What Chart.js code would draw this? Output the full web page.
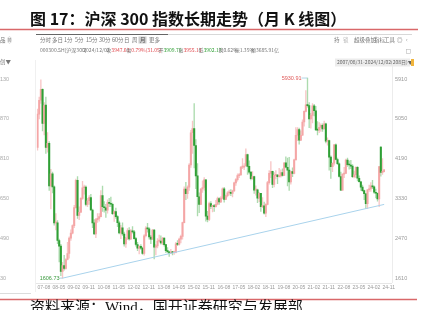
<!DOCTYPE html>
<html>
<head>
<meta charset="utf-8">
<script src="https://cdn.jsdelivr.net/npm/chart.js@4.4.1/dist/chart.umd.min.js"></script>
<style>
  html, body { margin: 0; padding: 0; background: #fff; overflow: hidden; }
  canvas { display: block; }
</style>
</head>
<body>
<canvas id="kline" width="423" height="310"></canvas>
<script>
// monthly K line, CSI 300, 2007-08 .. 2024-12
const months = [
  '07-08','07-09','07-10','07-11','07-12',
  '08-01','08-02','08-03','08-04','08-05','08-06','08-07','08-08','08-09','08-10','08-11','08-12',
  '09-01','09-02','09-03','09-04','09-05','09-06','09-07','09-08','09-09','09-10','09-11','09-12',
  '10-01','10-02','10-03','10-04','10-05','10-06','10-07','10-08','10-09','10-10','10-11','10-12',
  '11-01','11-02','11-03','11-04','11-05','11-06','11-07','11-08','11-09','11-10','11-11','11-12',
  '12-01','12-02','12-03','12-04','12-05','12-06','12-07','12-08','12-09','12-10','12-11','12-12',
  '13-01','13-02','13-03','13-04','13-05','13-06','13-07','13-08','13-09','13-10','13-11','13-12',
  '14-01','14-02','14-03','14-04','14-05','14-06','14-07','14-08','14-09','14-10','14-11','14-12',
  '15-01','15-02','15-03','15-04','15-05','15-06','15-07','15-08','15-09','15-10','15-11','15-12',
  '16-01','16-02','16-03','16-04','16-05','16-06','16-07','16-08','16-09','16-10','16-11','16-12',
  '17-01','17-02','17-03','17-04','17-05','17-06','17-07','17-08','17-09','17-10','17-11','17-12',
  '18-01','18-02','18-03','18-04','18-05','18-06','18-07','18-08','18-09','18-10','18-11','18-12',
  '19-01','19-02','19-03','19-04','19-05','19-06','19-07','19-08','19-09','19-10','19-11','19-12',
  '20-01','20-02','20-03','20-04','20-05','20-06','20-07','20-08','20-09','20-10','20-11','20-12',
  '21-01','21-02','21-03','21-04','21-05','21-06','21-07','21-08','21-09','21-10','21-11','21-12',
  '22-01','22-02','22-03','22-04','22-05','22-06','22-07','22-08','22-09','22-10','22-11','22-12',
  '23-01','23-02','23-03','23-04','23-05','23-06','23-07','23-08','23-09','23-10','23-11','23-12',
  '24-01','24-02','24-03','24-04','24-05','24-06','24-07','24-08','24-09','24-10','24-11','24-12'
];

const open = [
  4430, 5150, 5450, 5688, 4950,
  5349, 4430, 4520, 3600, 3860, 3580, 2800, 2800, 2420, 2300, 1750, 1880,
  1817, 2010, 2140, 2470, 2580, 2740, 3130, 3720, 2960, 3030, 3330, 3560,
  3575, 3200, 3280, 3350, 3080, 2800, 2560, 2870, 2900, 2935, 3390, 3150,
  3128, 3077, 3240, 3222, 3203, 3000, 3044, 2937, 2803, 2584, 2695, 2560,
  2345, 2464, 2634, 2455, 2626, 2605, 2462, 2333, 2253, 2293, 2254, 2139,
  2523, 2686, 2673, 2495, 2447, 2643, 2274, 2304, 2409, 2410, 2368, 2475,
  2330, 2202, 2178, 2146, 2158, 2157, 2165, 2350, 2338, 2450, 2508, 2808,
  3533, 3434, 3572, 4051, 4749, 4840, 4473, 3816, 3366, 3202, 3534, 3566,
  3731, 2946, 2877, 3218, 3156, 3169, 3153, 3203, 3327, 3253, 3336, 3538,
  3310, 3387, 3452, 3456, 3439, 3492, 3666, 3737, 3822, 3837, 4006, 4006,
  4031, 4275, 4023, 3899, 3756, 3802, 3510, 3517, 3335, 3438, 3153, 3172,
  3011, 3202, 3670, 3872, 3913, 3630, 3826, 3836, 3799, 3814, 3886, 3828,
  4097, 4003, 3940, 3686, 3912, 3868, 4164, 4695, 4817, 4587, 4695, 4980,
  5211, 5352, 5336, 5049, 5124, 5332, 5224, 4811, 4806, 4866, 4908, 4832,
  4940, 4564, 4581, 4222, 4016, 4090, 4485, 4170, 4079, 3804, 3509, 3854,
  3872, 4157, 4060, 4051, 4029, 3799, 3842, 4002, 3765, 3690, 3573, 3497,
  3431, 3215, 3516, 3537, 3604, 3580, 3462, 3442, 3321, 4440, 3891, 3909.70
];

const high = [
  5260, 5520, 5892, 5700, 5400,
  5522, 4750, 4560, 3960, 3900, 3600, 3000, 2850, 2450, 2340, 1950, 2100,
  2030, 2380, 2500, 2650, 2760, 3180, 3750, 3803, 3150, 3350, 3700, 3620,
  3600, 3330, 3390, 3420, 3100, 2870, 2900, 3000, 3000, 3500, 3597, 3260,
  3200, 3300, 3330, 3357, 3230, 3060, 3120, 2960, 2840, 2750, 2800, 2600,
  2490, 2680, 2700, 2660, 2720, 2640, 2490, 2380, 2310, 2330, 2280, 2550,
  2720, 2791, 2700, 2530, 2660, 2660, 2330, 2460, 2540, 2520, 2490, 2480,
  2340, 2270, 2190, 2230, 2180, 2190, 2380, 2420, 2470, 2540, 2820, 3580,
  3675, 3600, 4080, 4800, 5000, 5380, 4600, 4080, 3450, 3550, 3710, 3780,
  3735, 3050, 3250, 3260, 3180, 3200, 3290, 3360, 3350, 3370, 3560, 3570,
  3400, 3480, 3510, 3520, 3510, 3680, 3760, 3860, 3870, 4020, 4190, 4080,
  4403, 4290, 4140, 3910, 3910, 3810, 3600, 3530, 3460, 3440, 3350, 3250,
  3220, 3700, 3930, 4127, 3920, 3890, 3930, 3850, 3980, 3950, 3970, 4100,
  4230, 4200, 4220, 3920, 3990, 4180, 4860, 4860, 4850, 4790, 5030, 5220,
  5660, 5930.91, 5400, 5170, 5380, 5360, 5320, 4990, 4970, 4940, 4940, 5000,
  4960, 4640, 4590, 4250, 4100, 4500, 4510, 4200, 4100, 3900, 3860, 4000,
  4180, 4200, 4140, 4150, 4060, 3920, 4010, 4020, 3820, 3700, 3620, 3510,
  3440, 3520, 3620, 3670, 3720, 3600, 3530, 3450, 4019, 4450, 4190, 3955.13
];

const low = [
  4370, 5050, 5380, 4790, 4700,
  4300, 4330, 3500, 3100, 3450, 2750, 2650, 2350, 1960, 1660, 1606.73, 1780,
  1800, 2000, 2040, 2420, 2560, 2700, 3120, 2900, 2870, 3020, 3310, 3420,
  3170, 3150, 3200, 3070, 2700, 2550, 2480, 2810, 2840, 2930, 3050, 3030,
  2920, 3010, 3150, 3150, 2980, 2830, 2900, 2720, 2560, 2460, 2530, 2300,
  2270, 2440, 2430, 2440, 2580, 2450, 2300, 2200, 2130, 2230, 2120, 2102,
  2500, 2600, 2450, 2350, 2440, 2023, 2110, 2260, 2390, 2340, 2330, 2300,
  2160, 2150, 2079, 2140, 2110, 2120, 2150, 2310, 2320, 2370, 2450, 2800,
  3300, 3330, 3500, 4000, 4300, 3990, 3540, 2952, 3020, 3200, 3460, 3510,
  2839, 2821, 2850, 3110, 3040, 3050, 3140, 3190, 3200, 3240, 3320, 3250,
  3300, 3360, 3400, 3390, 3360, 3480, 3610, 3700, 3780, 3830, 3970, 3950,
  4030, 3850, 3860, 3730, 3740, 3440, 3400, 3240, 3260, 3050, 3130, 2990,
  2935, 3190, 3640, 3780, 3560, 3580, 3750, 3650, 3790, 3790, 3810, 3820,
  3990, 3600, 3503, 3640, 3800, 3860, 4160, 4580, 4500, 4580, 4690, 4890,
  5200, 5300, 4860, 4850, 4960, 5110, 4800, 4700, 4750, 4780, 4780, 4830,
  4530, 4480, 3940, 3760, 3910, 4050, 4160, 4060, 3790, 3495, 3500, 3780,
  3870, 4020, 3960, 3970, 3780, 3770, 3780, 3710, 3680, 3500, 3480, 3300,
  3110, 3108, 3480, 3480, 3540, 3440, 3340, 3270, 3150, 3810, 3850, 3902.17
];

const close = [
  5150, 5450, 5688, 4950, 5338,
  4430, 4520, 3600, 3860, 3580, 2800, 2800, 2420, 2300, 1750, 1880, 1817,
  2010, 2140, 2470, 2580, 2740, 3130, 3720, 2960, 3030, 3330, 3560, 3575,
  3200, 3280, 3350, 3080, 2800, 2560, 2870, 2900, 2935, 3390, 3150, 3128,
  3077, 3240, 3222, 3203, 3000, 3044, 2937, 2803, 2584, 2695, 2560, 2345,
  2464, 2634, 2455, 2626, 2605, 2462, 2333, 2253, 2293, 2254, 2139, 2523,
  2686, 2673, 2495, 2447, 2643, 2274, 2304, 2409, 2410, 2368, 2475, 2330,
  2202, 2178, 2146, 2158, 2157, 2165, 2350, 2338, 2450, 2508, 2808, 3533,
  3434, 3572, 4051, 4749, 4840, 4473, 3816, 3366, 3202, 3534, 3566, 3731,
  2946, 2877, 3218, 3156, 3169, 3153, 3203, 3327, 3253, 3336, 3538, 3310,
  3387, 3452, 3456, 3439, 3492, 3666, 3737, 3822, 3837, 4006, 4006, 4031,
  4275, 4023, 3899, 3756, 3802, 3510, 3517, 3335, 3438, 3153, 3172, 3011,
  3202, 3670, 3872, 3913, 3630, 3826, 3836, 3799, 3814, 3886, 3828, 4097,
  4003, 3940, 3686, 3912, 3868, 4164, 4695, 4817, 4587, 4695, 4980, 5211,
  5352, 5336, 5049, 5124, 5332, 5224, 4811, 4806, 4866, 4908, 4832, 4940,
  4564, 4581, 4222, 4016, 4090, 4485, 4170, 4079, 3804, 3509, 3854, 3872,
  4157, 4060, 4051, 4029, 3799, 3842, 4002, 3765, 3690, 3573, 3497, 3431,
  3215, 3516, 3537, 3604, 3580, 3462, 3442, 3321, 4018, 3891, 3917, 3947.63
];

// support line from the 2008 low to the right edge
const trendFrom = { month: '08-11', value: 1606.73 };
const trendTo = { month: '24-12', value: 3200 };

const yTicks = [1610, 2470, 3330, 4190, 5050, 5910];
const leftTickLabels = ['30', '490', '650', '810', '870', '130'];

const title = '图 17：沪深 300 指数长期走势（月 K 线图）';
const source = '资料来源：Wind，国开证券研究与发展部';

const UP = '#f4a6a6', UP_WICK = '#f8c6c6';
const DOWN = '#2f9f35', DOWN_WICK = '#acdbae';
const isUp = i => close[i] >= open[i];

const bodies = months.map((m, i) => [open[i], close[i]]);
const wicks = months.map((m, i) => [low[i], high[i]]);
const trend = months.map(m => m === trendFrom.month ? trendFrom.value : (m === trendTo.month ? trendTo.value : null));

function hline(c, x1, x2, y, color, w) {
  c.strokeStyle = color; c.lineWidth = w || 1;
  c.beginPath(); c.moveTo(x1, y); c.lineTo(x2, y); c.stroke();
}
function vline(c, x, y1, y2, color, w) {
  c.strokeStyle = color; c.lineWidth = w || 1;
  c.beginPath(); c.moveTo(x, y1); c.lineTo(x, y2); c.stroke();
}

const SMALL = '"Noto Sans CJK SC", "Noto Sans", sans-serif';
const NUM_FAMILY = '"Liberation Sans", Arial, sans-serif';

const decor = {
  id: 'decor',
  beforeDraw(chart) {
    const c = chart.ctx;
    c.save();
    c.fillStyle = '#fff';
    c.fillRect(0, 0, chart.width, chart.height);

    c.fillStyle = '#111';
    c.font = 'bold 16px "Noto Sans CJK SC", sans-serif';
    c.textBaseline = 'middle';
    c.textAlign = 'left';
    c.fillText(title, 30, 19);
    hline(c, 0, 418, 29.5, '#d9686a', 1.5);

    // terminal toolbar
    hline(c, 36, 168, 34.5, '#666', 1);
    hline(c, 168, 412, 34.5, '#d8d8d8', 1);
    c.font = '5.5px ' + SMALL;
    const tools = [['分时', 40], ['多日', 52], ['1分', 64], ['5分', 75], ['15分', 86], ['30分', 99],
                   ['60分', 112], ['日', 124], ['周', 132], ['月', 140], ['更多', 149]];
    tools.forEach(([t, x]) => {
      if (t === '月') {
        c.fillStyle = '#ccc'; c.fillRect(x - 1.5, 36.5, 8, 7); c.fillStyle = '#555';
      } else c.fillStyle = '#777';
      c.fillText(t, x, 40);
    });
    const rtools = [['持', 334], ['锁', 343], ['超级叠加', 354], ['指标', 374], ['工具', 384], ['◎', 397], ['‹', 406]];
    rtools.forEach(([t, x]) => { c.fillStyle = t === '锁' ? '#bbb' : '#777'; c.fillText(t, x, 40); });
    c.fillStyle = '#777';
    c.fillText('品 ⑩', 0, 40);
    c.fillText('创▼', 0, 62);
    c.strokeStyle = '#bbb'; c.lineWidth = 0.6; c.strokeRect(406.5, 49.5, 4, 4);

    // quote line
    const quote = [
      ['000300.SH[沪深300]', '#777'], ['2024/12/02', '#777'],
      ['收', '#777', '3947.63', '#e0474c'], ['幅', '#777', '0.79%(31.05)', '#e0474c'],
      ['开', '#777', '3909.70', '#2f9f35'], ['高', '#777', '3955.13', '#e0474c'],
      ['低', '#777', '3902.17', '#2f9f35'], ['换0.62%', '#777'], ['振1.35%', '#777'], ['额3685.91亿', '#777']
    ];
    c.font = '5px ' + SMALL;
    const widths = quote.map(q => c.measureText(q[0]).width + (q[2] ? c.measureText(q[2]).width : 0));
    const total = widths.reduce((a, b) => a + b, 0);
    const gap = (279 - 40 - total) / (quote.length - 1);
    let qx = 40;
    quote.forEach((q, i) => {
      c.fillStyle = q[1]; c.fillText(q[0], qx, 50);
      if (q[2]) { c.fillStyle = q[3]; c.fillText(q[2], qx + c.measureText(q[0]).width, 50); }
      qx += widths[i] + gap;
    });

    // range box
    c.fillStyle = '#ececec';
    c.fillRect(335, 58.5, 75, 8);
    c.fillStyle = '#666';
    c.fillText('2007/08/31-2024/12/02(208日)▼', 337, 62.5);
    c.fillStyle = '#f0b43c';
    c.fillRect(411, 59, 3, 7);

    // frame lines
    vline(c, 35.5, 60, 292, '#f0f0f0', 1);
    vline(c, 392.5, 60, 283, '#ececec', 1);
    hline(c, 36, 392, 283.5, '#e6e6e6', 1);
    hline(c, 0, 31, 293.5, '#dcdcdc', 1);

    // footer
    hline(c, 0, 417, 299.5, '#d9686a', 1.5);
    c.fillStyle = '#111';
    c.font = '15px "Liberation Serif", "Noto Sans CJK SC", serif';
    c.textBaseline = 'top';
    c.fillText(source, 30, 301);
    c.restore();
  },
  afterDatasetsDraw(chart) {
    const c = chart.ctx, xs = chart.scales.x, ys = chart.scales.y;
    c.save();
    c.font = '5.5px ' + NUM_FAMILY;
    c.textBaseline = 'middle';
    c.textAlign = 'right';

    const li = low.indexOf(Math.min(...low));
    const lx = xs.getPixelForValue(li), ly = ys.getPixelForValue(low[li]);
    hline(c, lx - 3, lx, ly, '#9ccbe0', 0.8);
    c.fillStyle = '#3b9a3f';
    c.fillText(low[li].toFixed(2), lx - 3, ly);

    const hi = high.indexOf(Math.max(...high));
    const hx = xs.getPixelForValue(hi), hy = ys.getPixelForValue(high[hi]);
    hline(c, hx - 6, hx, hy, '#9ccbe0', 0.8);
    c.fillStyle = '#e05a5a';
    c.fillText(high[hi].toFixed(2), hx - 6, hy);
    c.restore();
  }
};

const pxPerPoint = (5910 - 1610) / 199;
const yMax = 5910 + 15 * pxPerPoint;
const yMin = 1610 - 5 * pxPerPoint;

new Chart(document.getElementById('kline'), {
  type: 'bar',
  data: {
    labels: months,
    datasets: [
      {
        label: 'wick',
        data: wicks,
        yAxisID: 'y',
        grouped: false,
        barThickness: 0.7,
        backgroundColor: ctx => isUp(ctx.dataIndex) ? UP_WICK : DOWN_WICK,
        order: 3
      },
      {
        label: 'body',
        data: bodies,
        yAxisID: 'y',
        grouped: false,
        barThickness: 1.4,
        minBarLength: 1,
        backgroundColor: ctx => isUp(ctx.dataIndex) ? UP : DOWN,
        order: 2
      },
      {
        type: 'line',
        label: 'trend',
        data: trend,
        yAxisID: 'y',
        borderColor: '#a9d3ec',
        borderWidth: 1,
        pointRadius: 0,
        spanGaps: true,
        order: 1
      }
    ]
  },
  options: {
    responsive: false,
    animation: false,
    layout: { padding: { top: 64, bottom: 15, left: 0, right: 0 } },
    plugins: { legend: { display: false }, tooltip: { enabled: false } },
    scales: {
      x: {
        grid: { display: false, drawTicks: false },
        border: { display: false },
        ticks: {
          autoSkip: false,
          maxRotation: 0,
          minRotation: 0,
          align: 'start',
          padding: 2,
          color: '#999',
          font: { size: 5, family: NUM_FAMILY },
          callback: (v, i) => (i % 9 === 0 ? months[i] : '')
        },
        afterFit: s => { s.height = 12; }
      },
      y: {
        position: 'right',
        min: yMin,
        max: yMax,
        grid: { display: false, drawTicks: false },
        border: { display: false },
        ticks: {
          color: '#999',
          padding: 10,
          crossAlign: 'near',
          font: { size: 5.5, family: NUM_FAMILY },
          callback: v => String(v)
        },
        afterBuildTicks: s => { s.ticks = yTicks.map(v => ({ value: v })); },
        afterFit: s => { s.width = 38; }
      },
      yl: {
        position: 'left',
        min: yMin,
        max: yMax,
        grid: { display: false, drawTicks: false },
        border: { display: false },
        ticks: {
          color: '#aaa',
          crossAlign: 'far',
          padding: 0,
          font: { size: 5.5, family: NUM_FAMILY },
          callback: (v, i) => leftTickLabels[i]
        },
        afterBuildTicks: s => { s.ticks = yTicks.map(v => ({ value: v })); },
        afterFit: s => { s.width = 36.7; }
      }
    }
  },
  plugins: [decor]
});
</script>
</body>
</html>
